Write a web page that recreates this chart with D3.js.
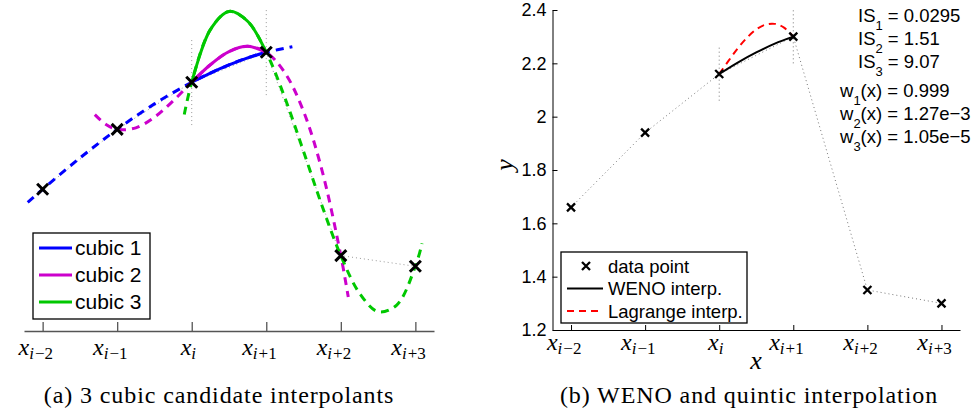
<!DOCTYPE html>
<html>
<head>
<meta charset="utf-8">
<script src="https://cdn.jsdelivr.net/npm/d3@7"></script>
<style>
body { margin: 0; background: #fff; }
svg { display: block; }
text { white-space: pre; }
</style>
</head>
<body>
<div id="chart"></div>
<script>
// six samples, shared by both panels
const xIndex = [0, 1, 2, 3, 4, 5];
const tickSubs = ["\u22122", "\u22121", "", "+1", "+2", "+3"];
const dataY = [1.66, 1.94, 2.16, 2.30, 1.35, 1.30];

// candidate cubics
const cubic1X = [-0.2, 0, 0.5, 1, 1.5, 2, 2.25, 2.5, 2.75, 3, 3.35];
const cubic1Y = [1.599, 1.66, 1.806, 1.94, 2.059, 2.16, 2.203, 2.241, 2.274, 2.30, 2.326];
const cubic2X = [0.7, 0.85, 1, 1.25, 1.5, 1.75, 2, 2.25, 2.5, 2.75, 3, 3.25, 3.5, 3.75, 4, 4.1];
const cubic2Y = [2.009, 1.963, 1.94, 1.947, 1.997, 2.073, 2.16, 2.242, 2.303, 2.328, 2.30, 2.204, 2.024, 1.745, 1.35, 1.156];
const cubic3X = [1.9, 2, 2.25, 2.5, 2.75, 3, 3.25, 3.5, 3.75, 4, 4.25, 4.5, 4.75, 5, 5.09];
const cubic3Y = [2.009, 2.16, 2.406, 2.491, 2.445, 2.30, 2.087, 1.837, 1.581, 1.35, 1.175, 1.088, 1.119, 1.30, 1.407];
const cubicNames = ["cubic 1", "cubic 2", "cubic 3"];
const cubicColors = ["#0000ff", "#cc00cc", "#00c800"];

// panel b curves
const wenoX = [2, 2.25, 2.5, 2.75, 3];
const wenoY = [2.16, 2.203, 2.241, 2.274, 2.30];
const lagrangeX = [2, 2.125, 2.25, 2.375, 2.5, 2.625, 2.75, 2.875, 3];
const lagrangeY = [2.16, 2.209, 2.256, 2.296, 2.327, 2.345, 2.348, 2.334, 2.30];
const yTicks = [1.2, 1.4, 1.6, 1.8, 2, 2.2, 2.4];

// smoothness indicators and weights
const isSubs = ["1", "2", "3"];
const isValues = ["0.0295", "1.51", "9.07"];
const wValues = ["0.999", "1.27e\u22123", "1.05e\u22125"];

const sans = "'Liberation Sans', Arial, sans-serif";
const serif = "'Liberation Serif', 'Times New Roman', serif";

const svg = d3.select("#chart").append("svg")
    .attr("width", 975)
    .attr("height", 416);

const zip = (xs, ys) => xs.map((x, i) => [x, ys[i]]);

function drawCross(g, cx, cy, r, w) {
    g.append("path")
        .attr("d", `M${cx - r},${cy - r}L${cx + r},${cy + r}M${cx - r},${cy + r}L${cx + r},${cy - r}`)
        .attr("stroke", "#000")
        .attr("stroke-width", w)
        .attr("fill", "none");
}

function xTickLabel(g, x, y, sub) {
    const t = g.append("text").attr("y", y).attr("font-family", serif);
    t.append("tspan").attr("font-style", "italic").attr("font-size", 24).text("x");
    t.append("tspan").attr("font-style", "italic").attr("font-size", 17).attr("dy", 4).text("i");
    if (sub) t.append("tspan").attr("font-size", 17).attr("dx", 1).text(sub);
    const w = t.node().getComputedTextLength();
    t.attr("x", x - 0.72 * w);
}

// ---------- panel (a) ----------
const xL = d3.scaleLinear().domain([-0.25, 5.25]).range([24, 434]);
const yL = d3.scaleLinear().domain([1, 2.5]).range([330.5, 9.5]);
const gA = svg.append("g");

gA.append("g")
    .attr("transform", "translate(0,331)")
    .call(d3.axisBottom(xL).tickValues(xIndex).tickSize(-9).tickSizeOuter(0).tickFormat(""))
    .call(g => g.selectAll("path, line").attr("stroke", "#555").attr("stroke-width", 1.3));

const lineL = d3.line().x(d => xL(d[0])).y(d => yL(d[1])).curve(d3.curveCatmullRom);
const ptsL = zip(xIndex, dataY);

gA.append("path")
    .attr("d", d3.line().x(d => xL(d[0])).y(d => yL(d[1]))(ptsL))
    .attr("fill", "none").attr("stroke", "#999").attr("stroke-width", 1).attr("stroke-dasharray", "1,3");

[2, 3].forEach(i => {
    gA.append("line")
        .attr("x1", xL(xIndex[i])).attr("x2", xL(xIndex[i]))
        .attr("y1", yL(dataY[i] - 0.2)).attr("y2", yL(dataY[i] + 0.2))
        .attr("stroke", "#999").attr("stroke-width", 1).attr("stroke-dasharray", "1,3");
});

const cubics = [zip(cubic1X, cubic1Y), zip(cubic2X, cubic2Y), zip(cubic3X, cubic3Y)];
cubics.forEach((pts, k) => {
    gA.append("path")
        .attr("d", lineL(pts))
        .attr("fill", "none").attr("stroke", cubicColors[k]).attr("stroke-width", 3)
        .attr("stroke-dasharray", "8,6");
});
cubics.forEach((pts, k) => {
    gA.append("path")
        .attr("d", lineL(pts.filter(d => d[0] >= 2 && d[0] <= 3)))
        .attr("fill", "none").attr("stroke", cubicColors[k]).attr("stroke-width", 3);
});

ptsL.forEach(d => drawCross(gA, xL(d[0]), yL(d[1]), 5.5, 3));

xIndex.forEach((v, i) => xTickLabel(gA, xL(v), 355, tickSubs[i]));

// legend (a)
const legA = gA.append("g");
legA.append("rect").attr("x", 33).attr("y", 233).attr("width", 117).attr("height", 86)
    .attr("fill", "#fff").attr("stroke", "#000").attr("stroke-width", 1.3);
cubicNames.forEach((name, k) => {
    const cy = 248 + k * 27;
    legA.append("line").attr("x1", 39).attr("x2", 72).attr("y1", cy).attr("y2", cy)
        .attr("stroke", cubicColors[k]).attr("stroke-width", 3);
    legA.append("text").attr("x", 75).attr("y", cy + 7)
        .attr("font-family", sans).attr("font-size", 21).text(name);
});

svg.append("text").attr("x", 219).attr("y", 403).attr("text-anchor", "middle")
    .attr("font-family", serif).attr("font-size", 24).attr("letter-spacing", 0.9)
    .text("(a) 3 cubic candidate interpolants");

// ---------- panel (b) ----------
const xR = d3.scaleLinear().domain([-0.25, 5.25]).range([552.5, 960]);
const yR = d3.scaleLinear().domain([1.2, 2.4]).range([330, 10]);
const gB = svg.append("g");

gB.append("g")
    .attr("transform", "translate(0,330)")
    .call(d3.axisBottom(xR).tickValues(xIndex).tickSize(-5).tickSizeOuter(0).tickFormat(""))
    .call(g => g.selectAll("path, line").attr("stroke", "#000").attr("stroke-width", 1));

gB.append("g")
    .attr("transform", "translate(552.5,0)")
    .call(d3.axisLeft(yR).tickValues(yTicks).tickSize(-5).tickSizeOuter(0).tickPadding(6)
        .tickFormat(d3.format("~g")))
    .call(g => g.selectAll("path, line").attr("stroke", "#000").attr("stroke-width", 1))
    .call(g => g.selectAll("text").attr("font-family", sans).attr("font-size", 18).attr("fill", "#000"));

const ptsR = zip(xIndex, dataY);
gB.append("path")
    .attr("d", d3.line().x(d => xR(d[0])).y(d => yR(d[1]))(ptsR))
    .attr("fill", "none").attr("stroke", "#777").attr("stroke-width", 1).attr("stroke-dasharray", "1,3");

[2, 3].forEach(i => {
    gB.append("line")
        .attr("x1", xR(xIndex[i])).attr("x2", xR(xIndex[i]))
        .attr("y1", yR(dataY[i] - 0.1)).attr("y2", yR(dataY[i] + 0.1))
        .attr("stroke", "#777").attr("stroke-width", 1).attr("stroke-dasharray", "1,3");
});

const lineR = d3.line().x(d => xR(d[0])).y(d => yR(d[1])).curve(d3.curveCatmullRom);
gB.append("path").attr("d", lineR(zip(wenoX, wenoY)))
    .attr("fill", "none").attr("stroke", "#000").attr("stroke-width", 2);
gB.append("path").attr("d", lineR(zip(lagrangeX, lagrangeY)))
    .attr("fill", "none").attr("stroke", "#ff0000").attr("stroke-width", 2)
    .attr("stroke-dasharray", "7,5");

ptsR.forEach(d => drawCross(gB, xR(d[0]), yR(d[1]), 4, 2.3));

xIndex.forEach((v, i) => xTickLabel(gB, xR(v), 350, tickSubs[i]));

gB.append("text").attr("x", 756).attr("y", 369).attr("text-anchor", "middle")
    .attr("font-family", serif).attr("font-style", "italic").attr("font-size", 26).text("x");
gB.append("text").attr("transform", "translate(513,165) rotate(-90)").attr("text-anchor", "middle")
    .attr("font-family", serif).attr("font-style", "italic").attr("font-size", 26).text("y");

// legend (b)
const legB = gB.append("g");
legB.append("rect").attr("x", 561).attr("y", 252).attr("width", 186).attr("height", 71)
    .attr("fill", "#fff").attr("stroke", "#000").attr("stroke-width", 1.3);
const legNames = ["data point", "WENO interp.", "Lagrange interp."];
legNames.forEach((name, k) => {
    const cy = 266 + k * 22.5;
    if (k === 0) drawCross(legB, 586, cy, 4, 2.3);
    if (k === 1) legB.append("line").attr("x1", 567).attr("x2", 603).attr("y1", cy).attr("y2", cy)
        .attr("stroke", "#000").attr("stroke-width", 2);
    if (k === 2) legB.append("line").attr("x1", 567).attr("x2", 603).attr("y1", cy).attr("y2", cy)
        .attr("stroke", "#ff0000").attr("stroke-width", 2).attr("stroke-dasharray", "7,5");
    legB.append("text").attr("x", 608).attr("y", cy + 6.5)
        .attr("font-family", sans).attr("font-size", 18.5).text(name);
});

// annotation block
isSubs.forEach((s, k) => {
    const t = gB.append("text").attr("x", 858).attr("y", 22 + k * 23)
        .attr("font-family", sans).attr("font-size", 18.5);
    t.append("tspan").text("IS");
    t.append("tspan").attr("font-size", 13).attr("dy", 8).text(s);
    t.append("tspan").attr("dy", -8).text(" = " + isValues[k]);
});
isSubs.forEach((s, k) => {
    const t = gB.append("text").attr("x", 840).attr("y", 97 + k * 23)
        .attr("font-family", sans).attr("font-size", 18.5);
    t.append("tspan").text("w");
    t.append("tspan").attr("font-size", 13).attr("dy", 8).text(s);
    t.append("tspan").attr("dy", -8).text("(x) = " + wValues[k]);
});

svg.append("text").attr("x", 749).attr("y", 403).attr("text-anchor", "middle")
    .attr("font-family", serif).attr("font-size", 24).attr("letter-spacing", 0.9)
    .text("(b) WENO and quintic interpolation");
</script>
</body>
</html>
